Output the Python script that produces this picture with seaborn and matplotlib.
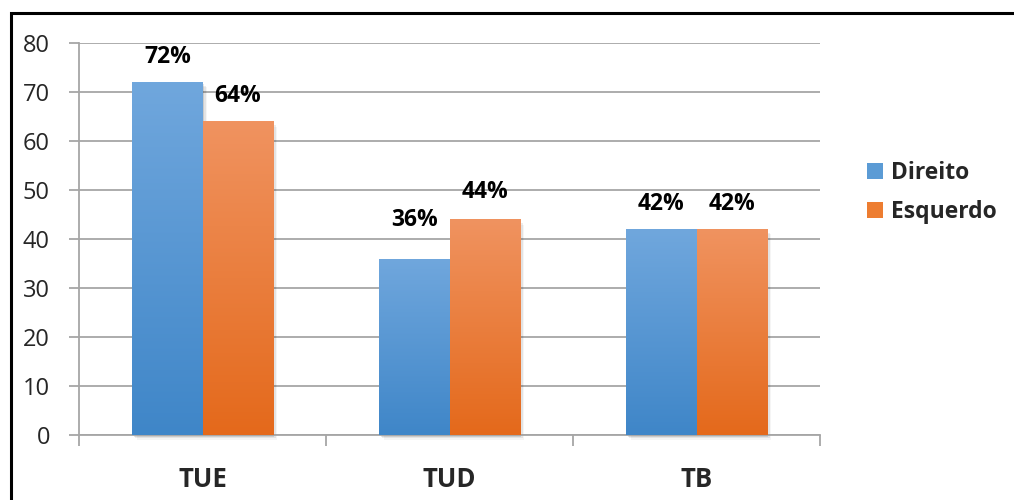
import numpy as np
import pandas as pd
import matplotlib
matplotlib.use("Agg")
import matplotlib.pyplot as plt
import seaborn as sns
from matplotlib.colors import LinearSegmentedColormap
from matplotlib.patches import Rectangle, Patch

categories = ["TUE", "TUD", "TB"]
direito = [72, 36, 42]
esquerdo = [64, 44, 42]
series_names = ["Direito", "Esquerdo"]
y_ticks = [0, 10, 20, 30, 40, 50, 60, 70, 80]

df = pd.DataFrame({
    "categoria": categories * 2,
    "valor": direito + esquerdo,
    "lado": [series_names[0]] * 3 + [series_names[1]] * 3,
})

sns.set_theme(style="white")
plt.rcParams["font.family"] = ["Open Sans", "DejaVu Sans"]

fig = plt.figure(figsize=(10.14, 5.0), dpi=100)
ax = fig.add_axes([0.078, 0.13, 0.7307, 0.784])

# top / bottom colours of each series gradient
grad = {
    "Direito": ("#70a7dd", "#3f86c8"),
    "Esquerdo": ("#f09360", "#e4691b"),
}
base = {"Direito": "#5b9bd5", "Esquerdo": "#ed7d31"}

sns.barplot(data=df, x="categoria", y="valor", hue="lado", order=categories,
            hue_order=series_names, palette=base, width=0.57, ax=ax,
            legend=False, saturation=1, zorder=3)

ax.set_xlim(-0.5, 2.5)
ax.set_ylim(0, 80)

# replace flat fills with vertical gradients and a soft shadow
for container, name in zip(ax.containers, series_names):
    top, bot = grad[name]
    cmap = LinearSegmentedColormap.from_list(name, [bot, top])
    for bar in container:
        x0, w, h = bar.get_x(), bar.get_width(), bar.get_height()
        for k, a in enumerate([0.10, 0.07, 0.04]):
            sh = Rectangle((x0 + 0.006 * (k + 1), -0.35 * (k + 1)), w, h,
                           facecolor="black", alpha=a, edgecolor="none",
                           zorder=2, clip_on=False)
            ax.add_patch(sh)
        bar.set_facecolor("none")
        bar.set_edgecolor("none")
        img = ax.imshow(np.linspace(0, 1, 256).reshape(-1, 1), cmap=cmap,
                        origin="lower", extent=(x0, x0 + w, 0, h),
                        aspect="auto", zorder=3)
        img.set_clip_path(bar)

ax.set_xlim(-0.5, 2.5)
ax.set_ylim(0, 80)

# value labels
label_offsets = [[18, 18], [28, 20], [18, 18]]
for i, cat in enumerate(categories):
    for j, (vals, container) in enumerate(zip([direito, esquerdo], ax.containers)):
        bar = container[i]
        ax.annotate(f"{vals[i]}%", (bar.get_x() + bar.get_width() / 2, vals[i]),
                    xytext=(0, label_offsets[i][j]), textcoords="offset points",
                    ha="center", va="center", fontsize=16.5, fontweight="bold",
                    color="black", zorder=5)

ax.set_yticks(y_ticks)
ax.set_yticklabels([str(t) for t in y_ticks], fontsize=17)
ax.grid(axis="y", color="#a6a6a6", linewidth=1.3, zorder=0)
ax.set_axisbelow(True)
ax.set_xlabel("")
ax.set_ylabel("")
ax.set_xticks([0, 1, 2])
ax.set_xticklabels(categories, fontsize=18.5, fontweight="bold")
ax.tick_params(axis="x", length=0, pad=22)
ax.tick_params(axis="y", length=7, width=1.3, color="#a6a6a6", direction="out", pad=14, left=True)

# category separators on the x axis
ax.set_xticks([-0.5, 0.5, 1.5, 2.5], minor=True)
ax.tick_params(axis="x", which="minor", length=8, width=1.3, color="#a6a6a6", bottom=True)

for side in ["top", "right"]:
    ax.spines[side].set_visible(False)
for side in ["left", "bottom"]:
    ax.spines[side].set_color("#a6a6a6")
    ax.spines[side].set_linewidth(1.3)

handles = [Patch(facecolor=base[n], edgecolor="none") for n in series_names]
leg = fig.legend(handles, series_names, loc="center left", bbox_to_anchor=(0.846, 0.615),
                 frameon=False, handlelength=0.7, handleheight=0.7, handletextpad=0.35,
                 labelspacing=0.62, borderpad=0.2, borderaxespad=0.2,
                 prop={"size": 16.5, "weight": "bold"})

# outer frame around the chart
frame = Rectangle((0.0105, -0.05), 1.2, 1.024, transform=fig.transFigure,
                  facecolor="none", edgecolor="black", linewidth=2.2, clip_on=False)
fig.patches.append(frame)

fig.savefig("out.png", dpi=100)
